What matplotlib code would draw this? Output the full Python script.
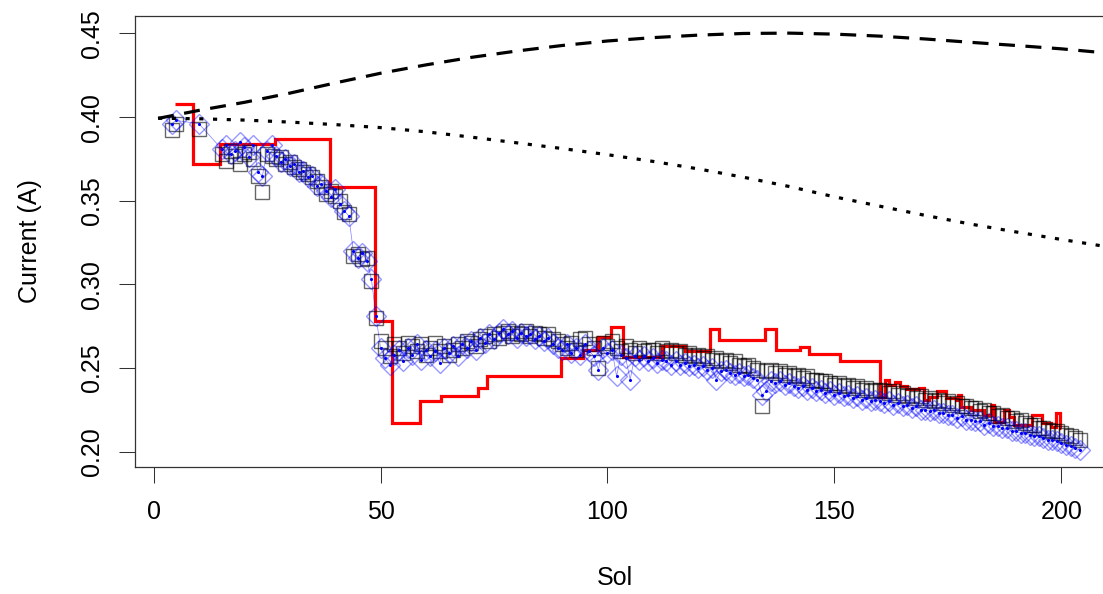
import numpy as np
import matplotlib
matplotlib.use("Agg")
import matplotlib.pyplot as plt

plt.rcParams['font.family'] = ['Liberation Sans', 'DejaVu Sans']

# measured points (squares) and second measurement (diamonds), one per sol
sol = np.r_[4, 5, 10, 15:205]
sq_vals = [0.392, 0.396, 0.393,
           0.378, 0.374, 0.380, 0.377, 0.372, 0.378, 0.379, 0.375, 0.365, 0.355,
           0.378, 0.377, 0.375, 0.376, 0.372, 0.373, 0.370, 0.369, 0.367, 0.366,
           0.364, 0.362, 0.358, 0.354, 0.356, 0.353, 0.350, 0.343, 0.342, 0.317,
           0.318, 0.315, 0.316, 0.302, 0.280,
           0.266, 0.262, 0.257, 0.264, 0.262, 0.259, 0.265, 0.263, 0.260, 0.264,
           0.258, 0.262, 0.265, 0.260, 0.263, 0.258, 0.261, 0.264, 0.262, 0.266,
           0.265, 0.263, 0.267, 0.269, 0.266, 0.270, 0.268, 0.271, 0.272, 0.269,
           0.271, 0.270, 0.272, 0.269, 0.271, 0.270, 0.268, 0.270, 0.267, 0.266,
           0.264, 0.262, 0.265, 0.261, 0.267, 0.268, 0.264, 0.262, 0.250, 0.265,
           0.263, 0.266, 0.262, 0.260, 0.263, 0.261, 0.259, 0.262, 0.260, 0.261,
           0.261, 0.259, 0.262, 0.260, 0.261, 0.259, 0.260, 0.258, 0.259, 0.257,
           0.258, 0.256, 0.257, 0.255, 0.256, 0.254, 0.255, 0.253, 0.254, 0.252,
           0.251, 0.252, 0.250, 0.249, 0.227, 0.248, 0.249, 0.247, 0.248, 0.246,
           0.247, 0.245, 0.246, 0.244, 0.245, 0.243, 0.243, 0.242, 0.242, 0.241,
           0.240, 0.241, 0.239, 0.240, 0.238, 0.239, 0.237, 0.238, 0.236, 0.237,
           0.237, 0.236, 0.235, 0.236, 0.234, 0.235, 0.233, 0.234, 0.232, 0.233,
           0.231, 0.232, 0.230, 0.231, 0.229, 0.230, 0.228, 0.229, 0.227, 0.227,
           0.226, 0.226, 0.224, 0.225, 0.223, 0.223, 0.221, 0.222, 0.220, 0.220,
           0.218, 0.219, 0.217, 0.216, 0.216, 0.214, 0.214, 0.213, 0.212, 0.212,
           0.211, 0.210, 0.209, 0.208, 0.207]
dia_vals = [0.396, 0.398, 0.396,
            0.381, 0.383, 0.378, 0.380, 0.385, 0.382, 0.376, 0.383, 0.367, 0.365,
            0.380, 0.383, 0.377, 0.373, 0.375, 0.371, 0.372, 0.367, 0.368, 0.364,
            0.365, 0.359, 0.360, 0.356, 0.352, 0.357, 0.348, 0.344, 0.341, 0.320,
            0.316, 0.319, 0.314, 0.303, 0.281,
            0.262, 0.256, 0.252, 0.258, 0.261, 0.254, 0.262, 0.258, 0.264, 0.255,
            0.261, 0.257, 0.260, 0.253, 0.262, 0.259, 0.263, 0.257, 0.264, 0.262,
            0.266, 0.261, 0.268, 0.265, 0.270, 0.267, 0.271, 0.273, 0.270, 0.272,
            0.268, 0.271, 0.269, 0.270, 0.267, 0.269, 0.266, 0.268, 0.264, 0.262,
            0.261, 0.264, 0.259, 0.262, 0.258, 0.264, 0.260, 0.257, 0.249, 0.262,
            0.259, 0.261, 0.245, 0.258, 0.256, 0.243, 0.257, 0.255, 0.257, 0.254,
            0.256, 0.253, 0.255, 0.254, 0.252, 0.254, 0.252, 0.253, 0.251, 0.252,
            0.250, 0.251, 0.249, 0.250, 0.243, 0.248, 0.249, 0.247, 0.246, 0.247,
            0.245, 0.246, 0.244, 0.243, 0.234, 0.236, 0.242, 0.241, 0.242, 0.240,
            0.241, 0.239, 0.238, 0.239, 0.237, 0.238, 0.236, 0.237, 0.235, 0.236,
            0.234, 0.235, 0.233, 0.234, 0.232, 0.233, 0.231, 0.232, 0.230, 0.231,
            0.230, 0.229, 0.230, 0.228, 0.229, 0.227, 0.228, 0.226, 0.227, 0.225,
            0.225, 0.224, 0.225, 0.223, 0.223, 0.222, 0.222, 0.220, 0.221, 0.219,
            0.219, 0.218, 0.218, 0.216, 0.217, 0.215, 0.215, 0.214, 0.214, 0.212,
            0.212, 0.211, 0.211, 0.210, 0.209, 0.209, 0.208, 0.207, 0.207, 0.206,
            0.205, 0.204, 0.203, 0.202, 0.201]

# model curves
model_sol = [1, 10, 20, 30, 40, 50, 60, 70, 80, 90, 100, 110, 120, 130, 140,
             150, 160, 170, 180, 190, 200, 210]
upper_vals = [0.3992, 0.4040, 0.4088, 0.4143, 0.4204, 0.4262, 0.4312, 0.4357,
              0.4395, 0.4428, 0.4455, 0.4475, 0.4490, 0.4500, 0.4502, 0.4496,
              0.4484, 0.4467, 0.4447, 0.4428, 0.4408, 0.4383]
lower_vals = [0.3993, 0.3990, 0.3982, 0.397, 0.3955, 0.3937, 0.3912, 0.388,
              0.3846, 0.3812, 0.3775, 0.3735, 0.369, 0.364, 0.3585, 0.3523,
              0.3467, 0.3412, 0.3360, 0.3313, 0.3268, 0.3225]

# step model (edges and levels)
step_edges = [4.7, 8.6, 14.7, 26.8, 38.8, 48.7, 52.5, 58.6, 63.4, 71.5, 73.4,
              89.8, 94.6, 98.0, 100.8, 103.5, 112.0, 117.1, 122.5, 124.5, 134.6,
              137.2, 142.5, 144.3, 151.3, 160.1, 161.2, 162.0, 163.4, 164.5,
              166.0, 168.6, 169.7, 170.8, 172.6, 174.5, 176.7, 177.3, 177.8,
              180.0, 182.9, 184.4, 185.1, 187.3, 188.4, 189.5, 193.6, 195.8,
              197.6, 198.7, 199.7, 199.8]
step_levels = [0.408, 0.372, 0.384, 0.387, 0.358, 0.278, 0.217, 0.230, 0.233,
               0.238, 0.245, 0.256, 0.261, 0.2687, 0.2746, 0.2567, 0.263, 0.260,
               0.273, 0.2667, 0.273, 0.2605, 0.2627, 0.2585, 0.2541, 0.2328,
               0.2428, 0.2398, 0.2418, 0.2392, 0.2372, 0.2378, 0.2308, 0.2328,
               0.2364, 0.2318, 0.2308, 0.2338, 0.2268, 0.2248, 0.2218, 0.2278,
               0.2178, 0.2248, 0.2208, 0.2158, 0.2218, 0.2172, 0.2148, 0.2228,
               0.2139]

fig = plt.figure(figsize=(11.03, 5.94), dpi=100)
ax = fig.add_axes([135 / 1103, (594 - 467.4) / 594, 990 / 1103, 451 / 594])

ax.plot(sol, sq_vals, ls='none', marker='s', ms=10, mfc='none',
        mec=(0, 0, 0, 0.6), mew=1.0)
ax.plot(sol, dia_vals, ls='none', marker='D', ms=10, mfc='none',
        mec=(0, 0, 1, 0.4), mew=1.0)
ax.plot(sol, dia_vals, color='blue', lw=0.5, alpha=0.5)
ax.plot(sol, dia_vals, ls='none', color='blue', marker='.', ms=2.5)

ax.stairs(step_levels, step_edges, baseline=None, color='red', lw=2.3)
ax.plot(model_sol, upper_vals, color='black', lw=2.3, dashes=(5, 3.3))
ax.plot(model_sol, lower_vals, color='black', lw=2.3, dashes=(1.3, 3))

ax.set_xlim(-4.08, 214.0)
ax.set_ylim(0.1905, 0.4602)
ax.set_xticks([0, 50, 100, 150, 200])
ax.set_yticks([0.20, 0.25, 0.30, 0.35, 0.40, 0.45])
ax.set_yticklabels(['0.20', '0.25', '0.30', '0.35', '0.40', '0.45'],
                   rotation=90, va='center')
ax.tick_params(axis='both', direction='out', length=11.5, width=0.75,
               color='#333333', labelsize=18)
ax.tick_params(axis='x', pad=12)
ax.tick_params(axis='y', pad=11)
for s in ax.spines.values():
    s.set_color('#333333')
    s.set_linewidth(0.9)
ax.spines['right'].set_visible(False)

fig.text(615 / 1103, 1 - 578 / 594, 'Sol', ha='center', va='center', fontsize=18)
fig.text(30 / 1103, 1 - 241 / 594, 'Current (A)', ha='center', va='center',
         rotation=90, fontsize=18)

fig.savefig('out.png', dpi=100)
